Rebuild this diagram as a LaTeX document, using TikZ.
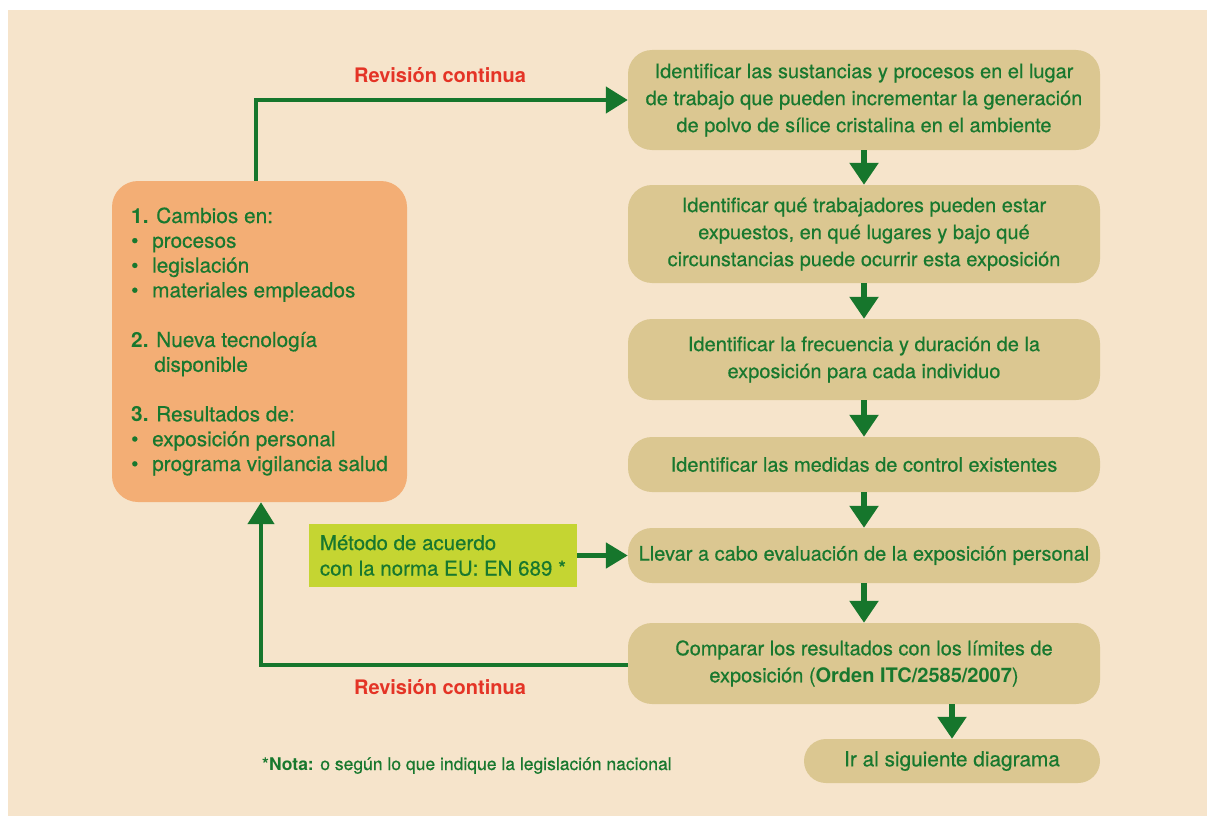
\documentclass[tikz,border=0pt]{standalone}
\usepackage{fontspec}
\setmainfont{TeX Gyre Heros}[UprightFeatures={FakeBold=0.5}]
\usetikzlibrary{arrows.meta}

\definecolor{paper}{RGB}{246,228,203}
\definecolor{tanbox}{RGB}{219,199,145}
\definecolor{peach}{RGB}{243,174,117}
\definecolor{limebox}{RGB}{197,213,50}
\definecolor{leaf}{RGB}{24,120,46}
\definecolor{arrowgreen}{RGB}{22,118,44}
\definecolor{alert}{RGB}{228,52,38}

\newcommand\listdot{\makebox[21pt][l]{\textbullet}}

\begin{document}
\begin{tikzpicture}[x=1pt,y=-1pt,
  stepbox/.style={rectangle, rounded corners=24pt, fill=tanbox, text=leaf,
    align=center, minimum width=472pt, inner sep=0pt,
    font=\fontsize{20}{27}\selectfont},
  endbox/.style={stepbox, minimum width=296pt, minimum height=44pt,
    rounded corners=22pt, font=\fontsize{20.8}{25}\selectfont},
  peachbox/.style={rectangle, rounded corners=26pt, fill=peach, text=leaf,
    align=left, minimum width=295pt, minimum height=321pt, inner sep=0pt,
    font=\fontsize{20.8}{24.8}\selectfont},
  methodbox/.style={rectangle, fill=limebox, text=leaf, align=left,
    minimum width=268pt, minimum height=63pt, inner sep=0pt,
    font=\fontsize{20.5}{25.5}\selectfont},
  revlabel/.style={text=alert, inner sep=0pt,
    font=\bfseries\fontsize{20}{24}\selectfont},
  flow/.style={draw=arrowgreen, line width=6.5pt,
    -{Triangle[width=28pt,length=22pt]}},
  loopline/.style={draw=arrowgreen, line width=4.5pt,
    -{Triangle[width=26pt,length=22pt]}},
  sideline/.style={draw=arrowgreen, line width=5pt,
    -{Triangle[width=25pt,length=22pt]}}
]
% page and background panel
\useasboundingbox (0,0) rectangle (1207,816);
\fill[white] (0,0) rectangle (1207,816);
\fill[paper] (8,10) rectangle (1207,816);

% main sequence of steps
\node[stepbox, minimum height=100pt] (b1) at (864,100)
  {Identificar las sustancias y procesos en el lugar\\
   de trabajo que pueden incrementar la generación\\
   de polvo de sílice cristalina en el ambiente};
\node[stepbox, minimum height=98pt] (b2) at (864,234)
  {Identificar qué trabajadores pueden estar\\
   expuestos, en qué lugares y bajo qué\\
   circunstancias puede ocurrir esta exposición};
\node[stepbox, minimum height=81pt] (b3) at (864,359.5)
  {Identificar la frecuencia y duración de la\\
   exposición para cada individuo};
\node[stepbox, minimum height=55pt] (b4) at (864,464.5)
  {Identificar las medidas de control existentes};
\node[stepbox, minimum height=55pt] (b5) at (864,555.5)
  {Llevar a cabo evaluación de la exposición personal};
\node[stepbox, minimum height=81pt] (b6) at (864,663.5)
  {Comparar los resultados con los límites de\\
   exposición (\textbf{Orden ITC/2585/2007})};
\node[endbox] (b7) at (952,761) {Ir al siguiente diagrama};

% triggers for a new review
\node[peachbox] (orange) at (259.5,341.5)
  {\textbf{1.} Cambios en:\\
   \listdot procesos\\
   \listdot legislación\\
   \listdot materiales empleados\\[24.8pt]
   \textbf{2.} Nueva tecnología\\
   \phantom{\textbf{2.}\ }disponible\\[24.8pt]
   \textbf{3.} Resultados de:\\
   \listdot exposición personal\\
   \listdot programa vigilancia salud};

% measurement method
\node[methodbox] (method) at (443,555.5)
  {Método de acuerdo\\con la norma EU: EN 689 *};

% labels
\node[revlabel, anchor=base] (revtop) at (440,82) {Revisión continua};
\node[revlabel, anchor=base] (revbottom) at (440,694) {Revisión continua};
\node[anchor=base west, text=leaf, inner sep=0pt,
      font=\fontsize{17.5}{20}\selectfont] (nota) at (262,770)
  {\textbf{*Nota:} o según lo que indique la legislación nacional};

% connectors
\draw[flow] (b1) -- (b2);
\draw[flow] (b2) -- (b3);
\draw[flow] (b3) -- (b4);
\draw[flow] (b4) -- (b5);
\draw[flow] (b5) -- (b6);
\draw[flow] (b6.south -| b7.north) -- (b7.north);
\draw[loopline] ([xshift=-3.5pt]orange.north) |- (b1.west);
\draw[loopline] ([yshift=-1.5pt]b6.west) -| ([xshift=1.5pt]orange.south);
\draw[sideline] (method) -- (b5);
\end{tikzpicture}
\end{document}
